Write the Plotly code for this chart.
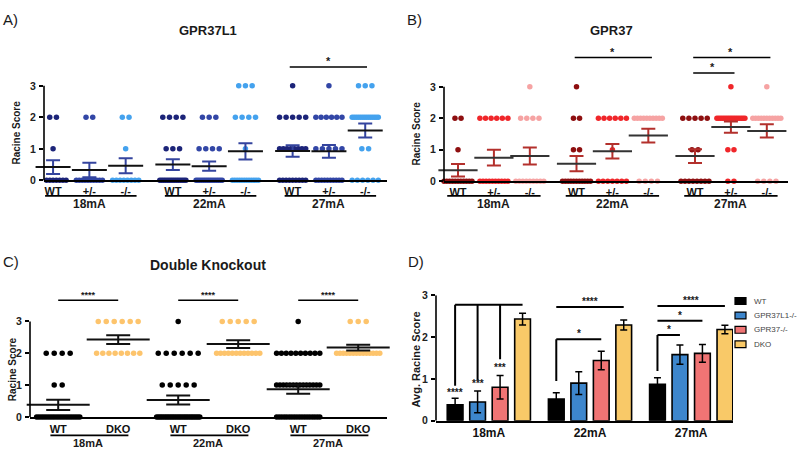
import plotly.graph_objects as go

W, H = 800, 457
FONT = "Liberation Sans, Arial, sans-serif"

# ---------------- data ----------------
currents = ["18mA", "22mA", "27mA"]
geno_single = ["WT", "+/-", "-/-"]
geno_double = ["WT", "DKO"]
score_levels = [0, 1, 2, 3]

# animals at Racine score 0,1,2,3 for each current (18, 22, 27 mA)
gpr37l1_wt = [[9, 1, 2, 0], [15, 3, 4, 0], [9, 8, 5, 1]]
gpr37l1_het = [[10, 0, 2, 0], [15, 4, 3, 0], [10, 5, 6, 1]]
gpr37l1_ko = [[8, 1, 2, 0], [12, 1, 4, 3], [6, 2, 14, 3]]
gpr37l1_mean = [[0.42, 0.33, 0.46], [0.50, 0.45, 0.92], [0.93, 0.92, 1.58]]
gpr37l1_sem = [[0.22, 0.23, 0.24], [0.17, 0.15, 0.26], [0.18, 0.20, 0.22]]

gpr37_wt = [[11, 1, 2, 0], [11, 2, 2, 1], [8, 2, 5, 0]]
gpr37_het = [[10, 0, 6, 0], [7, 1, 6, 0], [2, 2, 16, 1]]
gpr37_ko = [[9, 0, 4, 1], [4, 0, 10, 0], [4, 0, 11, 1]]
gpr37_mean = [[0.35, 0.75, 0.80], [0.56, 0.95, 1.45], [0.80, 1.72, 1.60]]
gpr37_sem = [[0.20, 0.25, 0.27], [0.24, 0.23, 0.22], [0.22, 0.18, 0.21]]

dko_wt = [[20, 2, 4, 0], [26, 5, 6, 1], [18, 14, 10, 1]]
dko_dko = [[0, 0, 8, 6], [0, 0, 12, 5], [0, 0, 14, 3]]
dko_mean = [[0.38, 2.43], [0.53, 2.29], [0.87, 2.18]]
dko_sem = [[0.16, 0.14], [0.14, 0.12], [0.14, 0.09]]

avg_series = ["WT", "GPR37L1-/-", "GPR37-/-", "DKO"]
avg_wt = [0.38, 0.52, 0.87]
avg_l1 = [0.45, 0.90, 1.58]
avg_g37 = [0.80, 1.44, 1.61]
avg_dko = [2.43, 2.29, 2.18]
sem_wt = [0.16, 0.15, 0.16]
sem_l1 = [0.26, 0.27, 0.23]
sem_g37 = [0.28, 0.22, 0.21]
sem_dko = [0.14, 0.12, 0.10]

# significance: (current idx, group i, group j, y, label)
sig_a = [(2, 0, 2, 3.6, "*")]
sig_b = [(1, 0, 2, 3.93, "*"), (2, 0, 2, 3.93, "*"), (2, 0, 1, 3.44, "*")]
sig_c = [(0, 0, 1, 3.67, "****"), (1, 0, 1, 3.67, "****"), (2, 0, 1, 3.67, "****")]

# ---------------- styles ----------------
col_a = ["#1c2479", "#3246a6", "#44a2ee"]
col_b = ["#8e0f10", "#f0262a", "#f6a3a3"]
col_c = ["#000000", "#fdc46c"]
col_d = ["#000000", "#3d86cc", "#f07474", "#f9c968"]


def px(x):
    return x / W


def py(y):
    return 1 - y / H


def ydom(p0, p3, top):
    unit = (p0 - p3) / 3.0
    return [py(p0), py(p0 - unit * top)]


def spread(n, step, maxw):
    if n <= 0:
        return []
    if n == 1:
        return [0.0]
    s = min(step, maxw / (n - 1))
    return [(i - (n - 1) / 2) * s for i in range(n)]


def positions(ng, gap):
    return [[g * gap + k for k in range(ng)] for g in range(3)]


pos_ab = positions(3, 3.3)
pos_c = positions(2, 2.0)
pos_d = positions(4, 4.5)

fig = go.Figure()
shapes = []
annos = []


def axn(i):
    return ("x" if i == 1 else "x%d" % i), ("y" if i == 1 else "y%d" % i)


def txt(x, y, t, size, xref="paper", yref="paper", bold=True, xanchor="center",
        yanchor="middle", angle=0, color="#1a1a1a", yshift=0):
    annos.append(dict(x=x, y=y, xref=xref, yref=yref, text=t, showarrow=False,
                      xanchor=xanchor, yanchor=yanchor, textangle=angle, yshift=yshift,
                      font=dict(family=FONT, size=size, color=color,
                                weight="bold" if bold else "normal")))


def line(x0, y0, x1, y1, xref, yref, w=1.6, color="black"):
    shapes.append(dict(type="line", x0=x0, y0=y0, x1=x1, y1=y1, xref=xref, yref=yref,
                       line=dict(color=color, width=w)))


def dot_panel(i, counts, colors, mean, sem, pos, step, maxw, msize, errcol, meancol,
              meanlen, cap):
    xa, ya = axn(i)
    ng = len(counts)
    for k in range(ng):
        xs, ys = [], []
        for g in range(3):
            for s, n in zip(score_levels, counts[k][g]):
                for off in spread(n, step, maxw):
                    xs.append(pos[g][k] + off)
                    ys.append(s)
        fig.add_trace(go.Scatter(x=xs, y=ys, mode="markers", xaxis=xa, yaxis=ya,
                                 marker=dict(color=colors[k], size=msize, line=dict(width=0)),
                                 cliponaxis=False, hoverinfo="skip"))
    mx = [pos[g][k] for g in range(3) for k in range(ng)]
    my = [mean[g][k] for g in range(3) for k in range(ng)]
    ms = [sem[g][k] for g in range(3) for k in range(ng)]
    fig.add_trace(go.Scatter(x=mx, y=my, mode="markers", xaxis=xa, yaxis=ya,
                             marker=dict(symbol="line-ew", size=meanlen, color=meancol,
                                         line=dict(color=meancol, width=2)),
                             error_y=dict(type="data", array=ms, color=errcol,
                                          thickness=2, width=cap),
                             cliponaxis=False, hoverinfo="skip"))


dot_panel(1, [gpr37l1_wt, gpr37l1_het, gpr37l1_ko], col_a, gpr37l1_mean, gpr37l1_sem,
          pos_ab, 0.185, 0.72, 5.5, "#34449e", "#111111", 25, 7)
dot_panel(2, [gpr37_wt, gpr37_het, gpr37_ko], col_b, gpr37_mean, gpr37_sem,
          pos_ab, 0.17, 0.78, 5.5, "#b3302c", "#333333", 28, 7)
dot_panel(3, [dko_wt, dko_dko], col_c, dko_mean, dko_sem,
          pos_c, 0.133, 0.72, 5.5, "#111111", "#111111", 45, 12)

# panel D bars
xa4, ya4 = axn(4)
for k, (name, vals, errs) in enumerate(zip(avg_series, [avg_wt, avg_l1, avg_g37, avg_dko],
                                           [sem_wt, sem_l1, sem_g37, sem_dko])):
    fig.add_trace(go.Bar(x=[pos_d[g][k] for g in range(3)], y=vals, width=0.7, name=name,
                         xaxis=xa4, yaxis=ya4,
                         marker=dict(color=col_d[k], line=dict(color="black", width=1.6)),
                         error_y=dict(type="data", array=errs, color="black",
                                      thickness=1.5, width=3.5),
                         hoverinfo="skip"))

# ---------------- axes ----------------
yt_font = dict(family=FONT, size=10.5, color="#222", weight="bold")


def xcfg(dom, rng, tv, tt, anchor, standoff=0, size=11):
    return dict(domain=dom, range=rng, tickvals=tv, ticktext=tt, anchor=anchor,
                showline=True, linecolor="black", linewidth=1.6, ticks="",
                showgrid=False, zeroline=False, fixedrange=True,
                tickfont=dict(family=FONT, size=size, color="#111", weight="bold"),
                ticklabelstandoff=standoff)


def ycfg(dom, rng, anchor):
    return dict(domain=dom, range=rng, tickvals=[0, 1, 2, 3], anchor=anchor,
                showline=False, ticks="outside", ticklen=4, tickwidth=1.5,
                tickcolor="black", showgrid=False, zeroline=False, fixedrange=True,
                tickfont=yt_font, ticklabelstandoff=1)


flat_ab = [p for g in pos_ab for p in g]
flat_c = [p for g in pos_c for p in g]
lab_ab = geno_single * 3
lab_c = geno_double * 3
centers_d = [sum(g) / len(g) for g in pos_d]

layout_axes = dict(
    xaxis=xcfg([px(44), px(387)], [-0.25, 9.2], flat_ab, lab_ab, "y"),
    yaxis=ycfg(ydom(179, 82, 4.1), [0, 4.1], "x"),
    xaxis2=xcfg([px(444), px(788)], [-0.39, 9.19], flat_ab, lab_ab, "y2"),
    yaxis2=ycfg(ydom(180, 83, 4.15), [0, 4.15], "x2"),
    xaxis3=xcfg([px(30), px(387)], [-0.47, 5.48], flat_c, lab_c, "y3", standoff=1),
    yaxis3=ycfg(ydom(422, 324, 4.0), [0, 4.0], "x3"),
    xaxis4=xcfg([px(436), px(733)], [-0.85, 12.36], centers_d, currents, "y4", size=12),
    yaxis4=ycfg(ydom(426, 297, 3.0), [0, 3.0], "x4"),
)

# y axis lines (0..3 only)
for i in range(1, 5):
    xa, ya = axn(i)
    line(0, 0, 0, 3, xa + " domain", ya, w=1.6)

# underlines + current labels under dot panels
for i, pos, ul_y, lab_y, pad, fs in [(1, pos_ab, 195, 203, (0.22, 0.3), 12),
                                     (2, pos_ab, 195, 203, (0.3, 0.3), 12),
                                     (3, pos_c, 441, 449, (0.13, 0.17), 11)]:
    xa, ya = axn(i)
    for g, cur in enumerate(currents):
        line(pos[g][0] - pad[0], py(ul_y), pos[g][-1] + pad[1], py(ul_y), xa, "paper", w=1.6)
        txt((pos[g][0] + pos[g][-1]) / 2, py(lab_y), cur, fs, xref=xa)

# significance lines for dot panels
for i, pos, sigs, d0, d1, size in [(1, pos_ab, sig_a, 0.08, 0.05, 11),
                                   (2, pos_ab, sig_b, 0.05, 0.1, 11),
                                   (3, pos_c, sig_c, 0.0, 0.0, 9)]:
    xa, ya = axn(i)
    for g, a, b, yv, lab in sigs:
        x0, x1 = pos[g][a] - d0, pos[g][b] + d1
        line(x0, yv, x1, yv, xa, ya, w=1.6)
        txt((pos[g][a] + pos[g][b]) / 2, yv, lab, size, xref=xa, yref=ya,
            yanchor="bottom", yshift=-2)

# panel D significance
d_lines = [
    # (current, from, to, y, label, drop list [(bar, bottom)])
    (0, 0, 3, 2.77, "", [(0, 0.84), (1, 0.97), (2, 1.47)]),
    (1, 0, 3, 2.72, "****", []),
    (1, 0, 2, 1.95, "*", [(0, 0.95)]),
    (2, 0, 3, 2.74, "****", []),
    (2, 0, 2, 2.39, "*", []),
    (2, 0, 1, 2.05, "*", [(0, 1.19)]),
]
for g, a, b, yv, lab, drops in d_lines:
    line(pos_d[g][a], yv, pos_d[g][b], yv, xa4, ya4, w=2)
    for k, bot in drops:
        line(pos_d[g][k], yv, pos_d[g][k], bot, xa4, ya4, w=2)
    if lab:
        txt((pos_d[g][a] + pos_d[g][b]) / 2, yv, lab, 10, xref=xa4, yref=ya4,
            yanchor="bottom", yshift=-2)
d_marks = [(0, 0, 0.68, "****"), (0, 1, 0.88, "***"), (0, 2, 1.27, "***")]
for g, k, yv, lab in d_marks:
    txt(pos_d[g][k], yv, lab, 10, xref=xa4, yref=ya4)

# legend for panel D
for k, name in enumerate(avg_series):
    yc = 303 + k * 14.8
    shapes.append(dict(type="rect", xref="paper", yref="paper",
                       x0=px(735), x1=px(746), y0=py(yc + 3.5), y1=py(yc - 3.5),
                       fillcolor=col_d[k], line=dict(color="black", width=1.2)))
    txt(px(752), py(yc), name, 8, bold=False, xanchor="left", color="#444")

# titles, panel letters, axis titles
txt(px(208), py(25), "GPR37L1", 13)
txt(px(611), py(25), "GPR37", 13)
txt(px(208), py(266), "Double Knockout", 14)
txt(px(1), py(14), "A)", 15, bold=False, xanchor="left")
txt(px(405), py(14), "B)", 15, bold=False, xanchor="left")
txt(px(1), py(262), "C)", 15, bold=False, xanchor="left")
txt(px(406), py(262), "D)", 15, bold=False, xanchor="left")
txt(px(17), py(130), "Racine Score", 10, angle=-90)
txt(px(417), py(131), "Racine Score", 10, angle=-90)
txt(px(12), py(373), "Racine Score", 10, angle=-90)
txt(px(416), py(363), "Avg. Racine Score", 11, angle=-90)

fig.update_layout(
    width=W, height=H, margin=dict(l=0, r=0, t=0, b=0),
    paper_bgcolor="white", plot_bgcolor="white", showlegend=False,
    barmode="overlay", hovermode=False,
    font=dict(family=FONT),
    shapes=shapes, annotations=annos,
    **layout_axes,
)

fig.write_html("out.html", config={"displayModeBar": False},
               post_script="document.body.style.margin='0px';")
